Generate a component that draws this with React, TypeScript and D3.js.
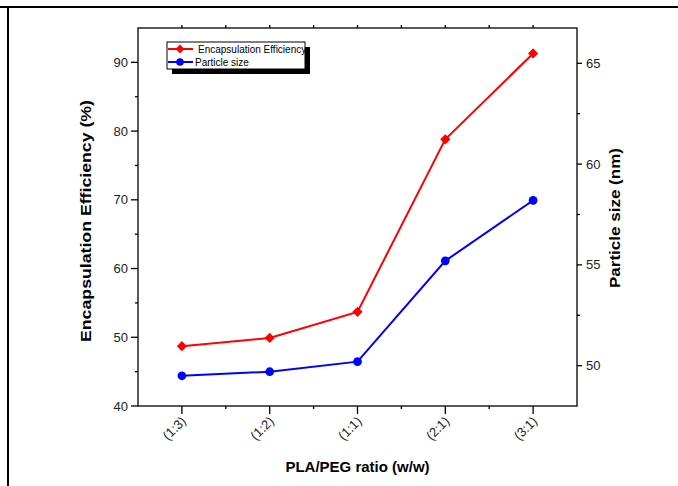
import React, { useEffect, useRef } from "react";
import * as d3 from "d3";

const categories = ["(1:3)", "(1:2)", "(1:1)", "(2:1)", "(3:1)"];
const efficiency = [48.7, 49.9, 53.7, 78.8, 91.3];
const particleSize = [49.5, 49.7, 50.2, 55.2, 58.2];
const leftTicks = [40, 50, 60, 70, 80, 90];
const leftMinor = [45, 55, 65, 75, 85];
const rightTicks = [50, 55, 60, 65];
const rightMinor = [52.5, 57.5, 62.5];
const legendItems = ["Encapsulation Efficiency", "Particle size"];

const W = 678;
const H = 486;
const font = "Arial, 'Liberation Sans', sans-serif";

const App = () => {
  const svgRef = useRef<SVGSVGElement>(null);

  useEffect(() => {
    const svg = d3.select(svgRef.current);
    svg.selectAll("*").remove();

    const plot = { left: 138, right: 577, top: 28, bottom: 406 };

    const x = d3
      .scaleBand()
      .domain(categories)
      .range([plot.left, plot.right])
      .padding(0);
    const cx = (c: string) => (x(c) as number) + x.bandwidth() / 2;

    const yLeft = d3.scaleLinear().domain([40, 95]).range([plot.bottom, plot.top]);
    const yRight = d3.scaleLinear().domain([48, 66.75]).range([plot.bottom, plot.top]);

    // page border (table cell)
    svg.append("line").attr("x1", 0).attr("x2", W).attr("y1", 7).attr("y2", 7)
      .attr("stroke", "#000").attr("stroke-width", 2);
    svg.append("line").attr("x1", 8).attr("x2", 8).attr("y1", 7).attr("y2", H)
      .attr("stroke", "#000").attr("stroke-width", 2);

    const axisG = svg.append("g").attr("stroke", "#000").attr("stroke-width", 1.3);

    // frame
    axisG.append("rect")
      .attr("x", plot.left).attr("y", plot.top)
      .attr("width", plot.right - plot.left).attr("height", plot.bottom - plot.top)
      .attr("fill", "none");

    // bottom + top ticks
    const minorX = categories.slice(1).map((c) => x(c) as number);
    categories.forEach((c) => {
      axisG.append("line").attr("x1", cx(c)).attr("x2", cx(c))
        .attr("y1", plot.bottom).attr("y2", plot.bottom + 8);
      axisG.append("line").attr("x1", cx(c)).attr("x2", cx(c))
        .attr("y1", plot.top).attr("y2", plot.top - 3);
    });
    minorX.forEach((v) => {
      axisG.append("line").attr("x1", v).attr("x2", v)
        .attr("y1", plot.bottom).attr("y2", plot.bottom + 3);
      axisG.append("line").attr("x1", v).attr("x2", v)
        .attr("y1", plot.top).attr("y2", plot.top - 3);
    });

    // left ticks
    leftTicks.forEach((t) => {
      axisG.append("line").attr("x1", plot.left - 7).attr("x2", plot.left)
        .attr("y1", yLeft(t)).attr("y2", yLeft(t));
    });
    leftMinor.forEach((t) => {
      axisG.append("line").attr("x1", plot.left - 3).attr("x2", plot.left)
        .attr("y1", yLeft(t)).attr("y2", yLeft(t));
    });
    // right ticks
    rightTicks.forEach((t) => {
      axisG.append("line").attr("x1", plot.right).attr("x2", plot.right + 5)
        .attr("y1", yRight(t)).attr("y2", yRight(t));
    });
    rightMinor.forEach((t) => {
      axisG.append("line").attr("x1", plot.right).attr("x2", plot.right + 3)
        .attr("y1", yRight(t)).attr("y2", yRight(t));
    });

    const txt = svg.append("g").attr("font-family", font).attr("fill", "#222");

    leftTicks.forEach((t) => {
      txt.append("text").attr("x", plot.left - 10).attr("y", yLeft(t))
        .attr("dy", "0.35em").attr("text-anchor", "end")
        .attr("font-size", 13).text(t);
    });
    rightTicks.forEach((t) => {
      txt.append("text").attr("x", plot.right + 9).attr("y", yRight(t))
        .attr("dy", "0.35em").attr("text-anchor", "start")
        .attr("font-size", 13).text(t);
    });
    categories.forEach((c) => {
      txt.append("text")
        .attr("transform", `translate(${cx(c) + 5},${plot.bottom + 16}) rotate(-45)`)
        .attr("text-anchor", "end").attr("font-size", 13).text(c);
    });

    // axis titles
    txt.append("text")
      .attr("x", (plot.left + plot.right) / 2 + 0).attr("y", 472)
      .attr("text-anchor", "middle").attr("font-size", 15).attr("font-weight", "bold")
      .attr("fill", "#000").text("PLA/PEG ratio (w/w)");
    txt.append("text")
      .attr("transform", `translate(91,221) rotate(-90)`)
      .attr("text-anchor", "middle").attr("font-size", 15).attr("font-weight", "bold")
      .attr("fill", "#000").attr("textLength", 242).attr("lengthAdjust", "spacingAndGlyphs")
      .text("Encapsulation Efficiency (%)");
    txt.append("text")
      .attr("transform", `translate(620,218) rotate(-90)`)
      .attr("text-anchor", "middle").attr("font-size", 15).attr("font-weight", "bold")
      .attr("fill", "#000").attr("textLength", 140).attr("lengthAdjust", "spacingAndGlyphs")
      .text("Particle size (nm)");

    // series (diamond = square rotated 45deg)
    const series = [
      { values: efficiency, y: yLeft, color: "#ff0000", marker: d3.symbolSquare, rot: 45, size: 52 },
      { values: particleSize, y: yRight, color: "#0000ff", marker: d3.symbolCircle, rot: 0, size: 60 },
    ];

    series.forEach((s) => {
      const line = d3
        .line<number>()
        .x((_, i) => cx(categories[i]))
        .y((d) => s.y(d));
      svg.append("path").attr("d", line(s.values)).attr("fill", "none")
        .attr("stroke", s.color).attr("stroke-width", 2);
      svg.selectAll(null).data(s.values).enter().append("path")
        .attr("d", d3.symbol().type(s.marker).size(s.size)())
        .attr("transform", (d, i) => `translate(${cx(categories[i])},${s.y(d)}) rotate(${s.rot})`)
        .attr("fill", s.color);
    });

    // legend
    const lg = svg.append("g").attr("transform", "translate(167,42)");
    lg.append("rect").attr("x", 5).attr("y", 5).attr("width", 138).attr("height", 27).attr("fill", "#000");
    lg.append("rect").attr("x", 0).attr("y", 0).attr("width", 138).attr("height", 27)
      .attr("fill", "#fff").attr("stroke", "#000").attr("stroke-width", 1);
    legendItems.forEach((name, i) => {
      const s = series[i];
      const ly = 7 + i * 13;
      lg.append("line").attr("x1", 1).attr("x2", 26).attr("y1", ly).attr("y2", ly)
        .attr("stroke", s.color).attr("stroke-width", 2);
      lg.append("path")
        .attr("d", d3.symbol().type(s.marker).size(s.size * 0.75)())
        .attr("transform", `translate(13,${ly}) rotate(${s.rot})`).attr("fill", s.color);
      lg.append("text").attr("x", i === 0 ? 31 : 28).attr("y", ly).attr("dy", "0.35em")
        .attr("font-family", font).attr("font-size", 10).attr("fill", "#000").text(name);
    });
  }, []);

  return (
    <svg
      ref={svgRef}
      width={W}
      height={H}
      style={{ position: "absolute", left: 0, top: 0, background: "#fff" }}
    />
  );
};

export default App;
